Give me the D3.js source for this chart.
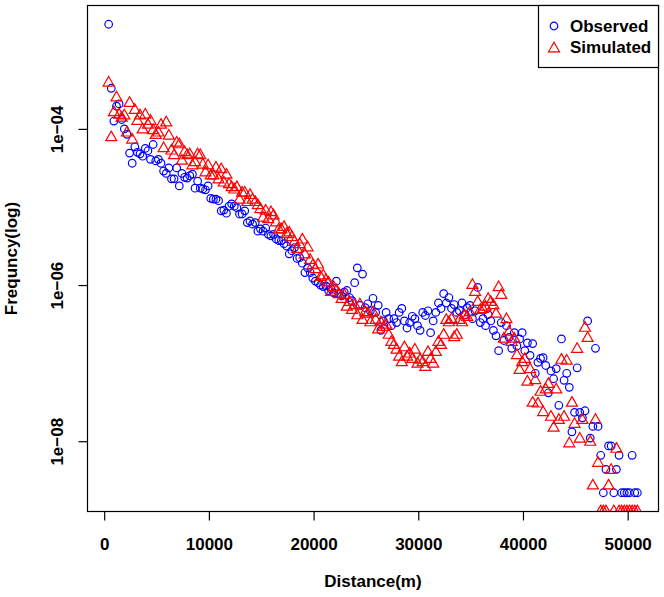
<!DOCTYPE html>
<html><head><meta charset="utf-8">
<script src="https://cdn.jsdelivr.net/npm/d3@7/dist/d3.min.js"></script>
<style>
body{margin:0;background:#fff}
text{font-family:"Liberation Sans",Arial,Helvetica,sans-serif;font-weight:bold;fill:#000}
</style>
</head><body>
<svg id="chart" width="664" height="597"></svg>
<script>
// Distance bins (m)
const distances = [
 425,675,925,1175,1425,1675,1925,2175,2425,2675,
 2925,3175,3425,3675,3925,4175,4425,4675,4925,5175,
 5425,5675,5925,6175,6425,6675,6925,7175,7425,7675,
 7925,8175,8425,8675,8925,9175,9425,9675,9925,10175,
 10425,10675,10925,11175,11425,11675,11925,12175,12425,12675,
 12925,13175,13425,13675,13925,14175,14425,14675,14925,15175,
 15425,15675,15925,16175,16425,16675,16925,17175,17425,17675,
 17925,18175,18425,18675,18925,19175,19425,19675,19925,20175,
 20425,20675,20925,21175,21425,21675,21925,22175,22425,22675,
 22925,23175,23425,23675,23925,24175,24425,24675,24925,25175,
 25425,25675,25925,26175,26425,26675,26925,27175,27425,27675,
 27925,28175,28425,28675,28925,29175,29425,29675,29925,30175,
 30425,30675,30925,31175,31425,31675,31925,32175,32425,32675,
 32925,33175,33425,33675,33925,34175,34425,34675,34925,35175,
 35425,35675,35925,36175,36425,36675,36925,37175,37425,37675,
 37925,38175,38425,38675,38925,39175,39425,39675,39925,40175,
 40425,40675,40925,41175,41425,41675,41925,42175,42425,42675,
 42925,43175,43425,43675,43925,44175,44425,44675,44925,45175,
 45425,45675,45925,46175,46425,46675,46925,47175,47425,47675,
 47925,48175,48425,48675,48925,49175,49425,49675,49925,50175,
 50425,50675,50925
];
// log10(frequency), observed
const observedLog10 = [
 -2.66,-3.48,-3.90,-3.71,-3.68,-3.88,-4.00,-4.07,-4.31,-4.44,
 -4.23,-4.30,-4.32,-4.35,-4.25,-4.28,-4.39,-4.20,-4.41,-4.39,
 -4.44,-4.54,-4.57,-4.50,-4.64,-4.64,-4.50,-4.73,-4.57,-4.62,
 -4.63,-4.60,-4.58,-4.76,-4.67,-4.76,-4.77,-4.78,-4.73,-4.89,
 -4.90,-4.90,-4.92,-5.05,-5.04,-5.08,-4.99,-4.96,-4.99,-5.01,
 -5.09,-5.09,-5.05,-5.20,-5.18,-5.22,-5.20,-5.31,-5.28,-5.31,
 -5.27,-5.35,-5.37,-5.35,-5.41,-5.43,-5.43,-5.47,-5.50,-5.60,
 -5.56,-5.52,-5.66,-5.65,-5.72,-5.84,-5.78,-5.84,-5.91,-5.95,
 -5.97,-6.00,-6.02,-6.01,-6.07,-6.05,-6.10,-5.95,-6.11,-6.14,
 -6.09,-6.07,-6.16,-6.20,-5.97,-5.78,-6.26,-5.86,-6.29,-6.24,
 -6.33,-6.17,-6.35,-6.26,-6.58,-6.46,-6.35,-6.43,-6.52,-6.43,
 -6.48,-6.35,-6.30,-6.46,-6.55,-6.48,-6.40,-6.43,-6.52,-6.58,
 -6.35,-6.39,-6.33,-6.61,-6.46,-6.35,-6.23,-6.30,-6.11,-6.23,
 -6.16,-6.30,-6.25,-6.35,-6.33,-6.23,-6.38,-6.29,-6.26,-6.43,
 -6.33,-6.03,-6.48,-6.43,-6.52,-6.38,-6.46,-6.58,-6.65,-6.84,
 -6.48,-6.71,-6.52,-6.67,-6.81,-6.61,-6.78,-6.69,-6.61,-6.84,
 -6.74,-6.90,-6.75,-7.13,-6.99,-6.94,-6.93,-7.03,-7.38,-7.10,
 -7.20,-7.07,-7.54,-6.69,-7.22,-7.13,-7.31,-7.88,-7.63,-7.06,
 -7.63,-7.70,-7.61,-6.46,-7.96,-7.81,-6.81,-7.81,-8.18,-8.66,
 -8.36,-8.06,-8.06,-8.66,-8.36,-8.18,-8.66,-8.66,-8.66,-8.66,
 -8.18,-8.66,-8.66
];
// log10(frequency), simulated
const simulatedLog10 = [
 -3.39,-4.09,-3.77,-3.58,-3.80,-3.84,-3.81,-4.03,-3.65,-4.12,
 -3.74,-3.88,-3.81,-3.99,-3.80,-3.93,-3.88,-4.00,-4.06,-4.03,
 -3.93,-4.23,-3.90,-4.07,-4.26,-4.32,-4.16,-4.18,-4.39,-4.28,
 -4.32,-4.31,-4.45,-4.41,-4.31,-4.32,-4.44,-4.54,-4.45,-4.58,
 -4.58,-4.48,-4.63,-4.50,-4.67,-4.57,-4.69,-4.73,-4.76,-4.73,
 -4.89,-4.80,-4.80,-4.92,-4.83,-4.89,-4.92,-4.96,-5.01,-5.12,
 -5.03,-5.14,-5.05,-5.09,-5.18,-5.27,-5.27,-5.24,-5.33,-5.31,
 -5.37,-5.43,-5.52,-5.46,-5.40,-5.59,-5.50,-5.66,-5.73,-5.78,
 -5.72,-5.88,-5.86,-5.92,-5.95,-6.07,-6.01,-6.05,-6.10,-6.16,
 -6.11,-6.26,-6.20,-6.30,-6.24,-6.37,-6.23,-6.43,-6.33,-6.35,
 -6.46,-6.33,-6.43,-6.55,-6.46,-6.52,-6.49,-6.62,-6.71,-6.75,
 -6.81,-6.90,-6.97,-6.78,-6.90,-6.86,-6.93,-6.81,-6.99,-6.94,
 -6.97,-7.03,-6.84,-6.93,-6.99,-6.84,-6.71,-6.75,-6.62,-6.43,
 -6.46,-6.42,-6.65,-6.62,-6.43,-6.46,-6.37,-6.39,-6.33,-5.98,
 -6.07,-6.20,-6.30,-6.29,-6.26,-6.16,-6.20,-6.24,-6.35,-6.01,
 -6.11,-6.67,-6.42,-6.58,-6.71,-6.67,-6.88,-7.07,-6.97,-6.93,
 -7.22,-7.06,-7.49,-7.20,-7.50,-7.35,-7.61,-7.32,-7.25,-7.67,
 -7.81,-7.32,-7.71,-6.94,-7.67,-6.95,-8.01,-7.49,-7.76,-6.80,
 -7.95,-7.71,-6.53,-6.66,-7.99,-8.55,-7.71,-8.26,-8.88,-8.88,
 -8.88,-8.55,-8.35,-8.88,-8.08,-8.88,-8.88,-8.88,-8.88,-8.88,
 -8.88,-8.88,-8.88
];
const xTicks = [0, 10000, 20000, 30000, 40000, 50000];
const yTicks = [1e-4, 1e-6, 1e-8];
const yTickLabels = ["1e\u221204", "1e\u221206", "1e\u221208"];
const seriesNames = ["Observed", "Simulated"];
const seriesColors = ["#0000ff", "#ff0000"];
const xTitle = "Distance(m)";
const yTitle = "Frequncy(log)";

const svg = d3.select("#chart");
const L = 87.5, R = 658.5, T = 5.5, B = 511.5;

const observed = distances.map((d, i) => ({x: d, v: Math.pow(10, observedLog10[i])}));
const simulated = distances.map((d, i) => ({x: d, v: Math.pow(10, simulatedLog10[i])}));

// R-style 4% axis extension
const xe = d3.extent(distances), xp = (xe[1] - xe[0]) * 0.04;
const x = d3.scaleLinear().domain([xe[0] - xp, xe[1] + xp]).range([L, R]);
const ye = d3.extent(observedLog10), yp = (ye[1] - ye[0]) * 0.04;
const y = d3.scaleLog().domain([Math.pow(10, ye[0] - yp), Math.pow(10, ye[1] + yp)]).range([B, T]);

svg.append("defs").append("clipPath").attr("id", "plotclip")
  .append("rect").attr("x", L).attr("y", T).attr("width", R - L).attr("height", B - T);

const triangle = {
  draw(ctx) {
    const w = 5.5, h = 4.8;
    ctx.moveTo(0, -h); ctx.lineTo(w, h); ctx.lineTo(-w, h); ctx.closePath();
  }
};

const pts = svg.append("g").attr("clip-path", "url(#plotclip)");
pts.selectAll("circle.obs").data(observed).join("circle")
  .attr("class", "obs")
  .attr("cx", d => x(d.x)).attr("cy", d => y(d.v)).attr("r", 3.8)
  .attr("fill", "none").attr("stroke", seriesColors[0]).attr("stroke-width", 1.2);
pts.selectAll("path.sim").data(simulated).join("path")
  .attr("class", "sim")
  .attr("d", d3.symbol().type(triangle)())
  .attr("transform", d => `translate(${x(d.x)},${y(d.v)})`)
  .attr("fill", "none").attr("stroke", seriesColors[1]).attr("stroke-width", 1.2);

// box
svg.append("rect").attr("x", L).attr("y", T).attr("width", R - L).attr("height", B - T)
  .attr("fill", "none").attr("stroke", "#000").attr("stroke-width", 1.2);

// x axis
const xa = svg.append("g").attr("transform", `translate(0,${B})`)
  .call(d3.axisBottom(x).tickValues(xTicks).tickSize(9).tickFormat(d3.format("d")));
xa.select(".domain").remove();
xa.selectAll("line").attr("stroke", "#000").attr("stroke-width", 1.2);
xa.selectAll("text").attr("y", 38).attr("dy", null)
  .style("font-size", "17px").style("font-family", "'Liberation Sans',Arial,sans-serif").style("font-weight", "bold").attr("fill", "#000");

// y axis
const ya = svg.append("g").attr("transform", `translate(${L},0)`)
  .call(d3.axisLeft(y).tickValues(yTicks).tickSize(9).tickFormat((d, i) => yTickLabels[i]));
ya.select(".domain").remove();
ya.selectAll("line").attr("stroke", "#000").attr("stroke-width", 1.2);
ya.selectAll("text").attr("x", null).attr("dy", null)
  .attr("transform", `translate(${62.5 - L},0) rotate(-90)`)
  .attr("text-anchor", "middle")
  .style("font-size", "17px").style("font-family", "'Liberation Sans',Arial,sans-serif").style("font-weight", "bold").attr("fill", "#000");

// titles
svg.append("text").attr("x", (L + R) / 2).attr("y", 586.5).attr("text-anchor", "middle")
  .style("font-size", "17px").text(xTitle);
svg.append("text").attr("transform", `translate(16.5,${(T + B) / 2}) rotate(-90)`).attr("text-anchor", "middle")
  .style("font-size", "17px").text(yTitle);

// legend
const lg = svg.append("g");
lg.append("rect").attr("x", 538.5).attr("y", T).attr("width", R - 538.5).attr("height", 62)
  .attr("fill", "#fff").attr("stroke", "#000").attr("stroke-width", 1.2);
const rows = lg.selectAll("g.row").data(seriesNames).join("g").attr("class", "row")
  .attr("transform", (d, i) => `translate(554,${26 + i * 21})`);
rows.filter((d, i) => i === 0).append("circle").attr("r", 3.8)
  .attr("fill", "none").attr("stroke", seriesColors[0]).attr("stroke-width", 1.2);
rows.filter((d, i) => i === 1).append("path").attr("d", d3.symbol().type(triangle)())
  .attr("fill", "none").attr("stroke", seriesColors[1]).attr("stroke-width", 1.2);
rows.append("text").attr("x", 16).attr("y", 6).style("font-size", "17px").text(d => d);
</script>
</body></html>
